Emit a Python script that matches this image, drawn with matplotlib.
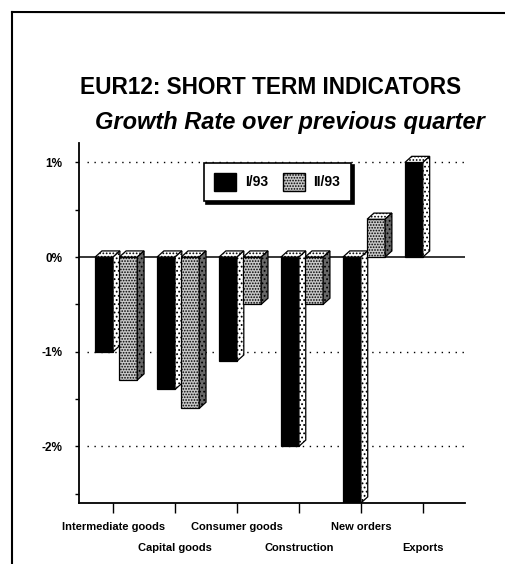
import matplotlib
matplotlib.use("Agg")
import matplotlib.pyplot as plt
from matplotlib.patches import Polygon, Patch
from matplotlib.lines import Line2D

plt.rcParams['font.family'] = ['Liberation Sans', 'DejaVu Sans']
plt.rcParams['hatch.linewidth'] = 0.8

# data (growth rate in %)
categories = ["Intermediate goods", "Capital goods", "Consumer goods",
              "Construction", "New orders", "Exports"]
series_names = ["I/93", "II/93"]
q1_93 = [-1.0, -1.4, -1.1, -2.0, -2.6, 1.0]
q2_93 = [-1.3, -1.6, -0.5, -0.5, 0.4, None]   # no exports figure for II/93
y_ticks = [-2, -1, 0, 1]
y_labels = ["-2%", "-1%", "0%", "1%"]

# fake 3d depth of the bars
DX = 0.11
DY = 0.065
W = 0.29

# styles: front, top, side faces
black_style = [dict(facecolor="black"),
               dict(facecolor="white", hatch="....."),
               dict(facecolor="white", hatch="....")]
grey_style = [dict(facecolor="#c8c8c8", hatch="......"),
              dict(facecolor="white", hatch="....."),
              dict(facecolor="#686868", hatch="....")]


def bar3d(ax, x0, v, style):
    lo, hi = min(0, v), max(0, v)
    front = [(x0, lo), (x0 + W, lo), (x0 + W, hi), (x0, hi)]
    top = [(x0, hi), (x0 + W, hi), (x0 + W + DX, hi + DY), (x0 + DX, hi + DY)]
    side = [(x0 + W, lo), (x0 + W + DX, lo + DY), (x0 + W + DX, hi + DY), (x0 + W, hi)]
    for verts, kw in zip([front, top, side], style):
        ax.add_patch(Polygon(verts, closed=True, edgecolor="black",
                             linewidth=0.9, zorder=3, **kw))


fig = plt.figure(figsize=(5.05, 5.64), dpi=100)
fig.patch.set_facecolor("white")
ax = fig.add_axes([79 / 505, 1 - 503 / 564, 386 / 505, 360 / 564])

for i in range(len(categories)):
    bar3d(ax, i - W, q1_93[i], black_style)
    if q2_93[i] is not None:
        bar3d(ax, i + 0.1, q2_93[i], grey_style)

ax.set_xlim(-0.55, 5.68)
ax.set_ylim(-2.6, 1.206)

# dotted gridlines and solid zero line
for t in y_ticks:
    if t == 0:
        ax.axhline(0, color="black", linewidth=1.1, zorder=2)
    else:
        ax.plot([-0.42, 5.72], [t, t], color="black", linewidth=1.0,
                linestyle=(0, (1, 4)), zorder=1, clip_on=False)

for s in ["top", "right"]:
    ax.spines[s].set_visible(False)
ax.spines["left"].set_linewidth(1.3)
ax.spines["bottom"].set_linewidth(1.3)

ax.set_yticks(y_ticks)
ax.set_yticklabels(y_labels, fontsize=8.5, fontweight="bold")
ax.set_yticks([-2.5, -1.5, -0.5, 0.5], minor=True)
ax.tick_params(axis="y", which="both", direction="out", length=3, width=1, pad=9)

# staggered category labels: even ones as major ticks, odd ones as minor ticks
pos = list(range(len(categories)))
ax.set_xticks(pos[0::2])
ax.set_xticklabels(categories[0::2], fontsize=8, fontweight="bold")
ax.set_xticks(pos[1::2], minor=True)
ax.set_xticklabels(categories[1::2], minor=True, fontsize=8, fontweight="bold")
ax.tick_params(axis="x", which="major", direction="out", length=7, width=1, pad=7)
ax.tick_params(axis="x", which="minor", direction="out", length=7, width=1, pad=21.5)

# legend
handles = [Patch(facecolor="black", edgecolor="black"),
           Patch(facecolor="#c8c8c8", edgecolor="black", hatch="......")]
leg = ax.legend(handles, series_names, ncol=2, loc="upper left",
                bbox_to_anchor=(0.305, 0.965), fancybox=False, framealpha=1,
                edgecolor="black", prop=dict(size=10, weight="bold"),
                handlelength=1.6, handleheight=1.6, columnspacing=1.1,
                handletextpad=0.6, borderpad=0.75,
                shadow=dict(color="black", alpha=1))
leg.get_frame().set_linewidth(1.2)
leg.set_zorder(5)

# titles
fig.text(271 / 505, 1 - 87 / 564, "EUR12: SHORT TERM INDICATORS",
         ha="center", va="center", fontsize=16.3, fontweight="bold")
fig.text(290 / 505, 1 - 123 / 564, "Growth Rate over previous quarter",
         ha="center", va="center", fontsize=17, fontweight="bold", style="italic")

# page frame (top and left edges of the scanned box)
fig.add_artist(Line2D([12 / 505, 12 / 505], [0, 1 - 12 / 564], color="black", linewidth=1.5))
fig.add_artist(Line2D([12 / 505, 1], [1 - 12 / 564, 1 - 13 / 564], color="black", linewidth=1.5))

fig.savefig("out.png", dpi=100)
